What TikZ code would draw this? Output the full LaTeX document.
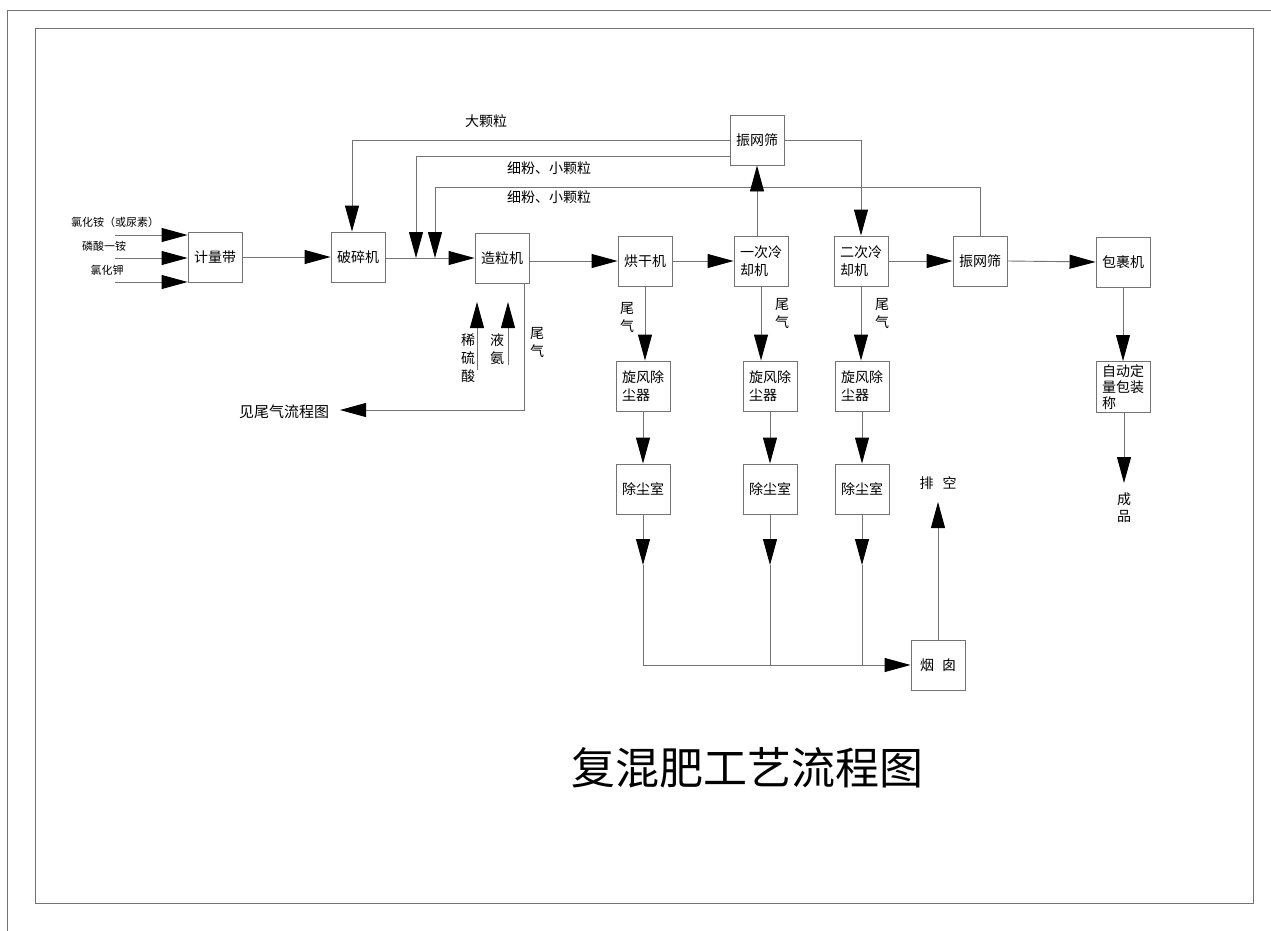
\documentclass[tikz,border=0pt]{standalone}
\usepackage{fontspec}
\setmainfont{Noto Sans CJK SC}
\usetikzlibrary{arrows.meta}
\begin{document}
\begin{tikzpicture}[x=1pt,y=-1pt,
  ln/.style={draw=black!55, line width=0.9pt},
  arr/.style={ln, -{Triangle[length=26pt,width=14pt,color=black]}},
  box/.style={draw=black!55, line width=0.9pt, minimum width=54pt, minimum height=50pt, inner sep=1pt, align=left, font=\fontsize{14}{18}\selectfont},
  lbl/.style={inner sep=0pt, align=center, font=\fontsize{14}{18}\selectfont},
  slbl/.style={inner sep=0pt, font=\fontsize{11}{13}\selectfont},
]
\fill[white] (0,0) rectangle (1271,931);
\useasboundingbox (0,0) rectangle (1271,931);
% frame
\draw[ln] (7,931) -- (7,10) -- (1271,10);
\draw[ln] (35,28) rectangle (1253,903);
% boxes
\node[box] (jl) at (215,257) {计量带};
\node[box] (ps) at (358,257) {破碎机};
\node[box] (zl) at (502,258) {造粒机};
\node[box] (hg) at (645,261) {烘干机};
\node[box] (lq1) at (761,261) {一次冷\\却机};
\node[box] (lq2) at (861,261) {二次冷\\却机};
\node[box] (sx2) at (980,261) {振网筛};
\node[box] (bg) at (1123,262) {包裹机};
\node[box] (sx1) at (757,140) {振网筛};
\node[box] (xf1) at (643,386) {旋风除\\尘器};
\node[box] (xf2) at (770,386) {旋风除\\尘器};
\node[box] (xf3) at (862,386) {旋风除\\尘器};
\node[box] (cs1) at (643,489) {除尘室};
\node[box] (cs2) at (770,489) {除尘室};
\node[box] (cs3) at (862,489) {除尘室};
\node[box] (yc) at (938,665) {烟\hspace{8pt}囱};
\node[box, font=\fontsize{14}{16}\selectfont, minimum height=51pt] (bz) at (1123,387) {自动定\\量包装\\称};
% inputs
\coordinate (a1) at (115,235);
\coordinate (a2) at (115,258);
\coordinate (a3) at (115,282);
\draw[arr] (a1) -- (a1 -| jl.west);
\draw[arr] (a2) -- (a2 -| jl.west);
\draw[arr] (a3) -- (a3 -| jl.west);
\node[slbl] (t1) at (115,222) {氯化铵（或尿素）};
\node[slbl] (t2) at (104,246) {磷酸一铵};
\node[slbl] (t3) at (107,270) {氯化钾};
% main line
\draw[arr] (jl.east) -- (ps.west);
\draw[arr] (ps.east |- zl.west) -- (zl.west);
\draw[arr] (zl.east |- hg.west) -- (hg.west);
\draw[arr] (hg.east) -- (lq1.west);
\draw[arr] (lq2.east) -- (sx2.west);
\draw[arr] (sx2.east) -- (bg.west);
% recycle loops
\coordinate (m1) at (416,258);
\coordinate (m2) at (435,258);
\coordinate (r2) at (416,156);
\coordinate (r3) at (435,187);
\coordinate (p1) at (352,140);
\draw[arr] (sx1.west) -- (p1) -- (p1 |- ps.north);
\draw[arr] (sx1.west |- r2) -| (m1);
\draw[arr] (sx2.north) |- (r3) -- (m2);
\draw[arr] (sx1.south |- lq1.north) -- (sx1.south);
\draw[arr] (sx1.east) -| (lq2.north);
\node[lbl] (l1) at (486,121) {大颗粒};
\node[lbl] (l2) at (549,168) {细粉、小颗粒};
\node[lbl] (l3) at (549,197) {细粉、小颗粒};
% granulator additions and tail gas
\coordinate (s1) at (477,370);
\coordinate (s1t) at (477,302);
\coordinate (s2) at (508,365);
\coordinate (s2t) at (508,302);
\draw[arr] (s1) -- (s1t);
\draw[arr] (s2) -- (s2t);
\node[lbl] (l4) at (468,358) {稀\\硫\\酸};
\node[lbl] (l5) at (497,349) {液\\氨};
\coordinate (wq) at (524,410);
\coordinate (wqe) at (340,410);
\draw[arr] (zl.south -| wq) -- (wq) -- (wqe);
\node[lbl, font=\fontsize{15}{18}\selectfont] (l6) at (284,412) {见尾气流程图};
\node[lbl] (l7) at (537,343) {尾\\气};
% dust removal
\draw[arr] (hg.south) -- (hg.south |- xf1.north);
\draw[arr] (lq1.south) -- (lq1.south |- xf2.north);
\draw[arr] (lq2.south) -- (lq2.south |- xf3.north);
\node[lbl] (w1) at (627,318) {尾\\气};
\node[lbl] (w2) at (782,314) {尾\\气};
\node[lbl] (w3) at (882,314) {尾\\气};
\draw[arr] (xf1.south) -- (cs1.north);
\draw[arr] (xf2.south) -- (cs2.north);
\draw[arr] (xf3.south) -- (cs3.north);
\coordinate (h1) at (643,565);
\coordinate (h2) at (770,565);
\coordinate (h3) at (862,565);
\coordinate (b1) at (643,665);
\coordinate (b2) at (770,665);
\coordinate (b3) at (862,665);
\draw[arr] (cs1.south) -- (h1);
\draw[arr] (cs2.south) -- (h2);
\draw[arr] (cs3.south) -- (h3);
\draw[ln] (h1) -- (b1);
\draw[ln] (h2) -- (b2);
\draw[ln] (h3) -- (b3);
\draw[arr] (b1) -- (yc.west);
\coordinate (pk) at (938,502);
\draw[arr] (yc.north) -- (pk);
\node[lbl] (l8) at (938,483) {排\hspace{9pt}空};
% packing
\draw[arr] (bg.south) -- (bz.north);
\coordinate (cp) at (1124,483);
\draw[arr] (bz.south -| cp) -- (cp);
\node[lbl, font=\fontsize{14}{17}\selectfont] (l9) at (1124,508) {成\\品};
% title
\node[inner sep=0pt, font=\fontsize{44}{50}\selectfont] (title) at (747,768) {复混肥工艺流程图};
\end{tikzpicture}
\end{document}
